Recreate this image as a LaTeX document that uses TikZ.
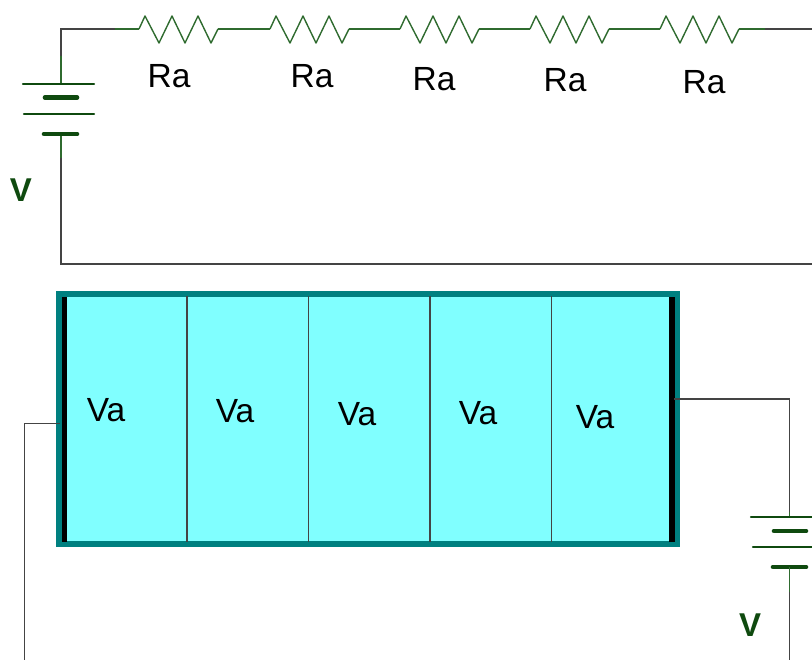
\documentclass[tikz,border=0pt]{standalone}
\usepackage{fontspec}
\setmainfont{Liberation Sans}
\definecolor{wirec}{HTML}{444444}
\definecolor{compc}{HTML}{2F6B2F}
\definecolor{batc}{HTML}{0F4A0F}
\definecolor{fillc}{HTML}{80FFFF}
\definecolor{framec}{HTML}{008080}
\tikzset{
  wire/.style={draw=wirec,line width=1.4pt,line join=miter},
  lead/.style={draw=compc,line width=1.4pt,line join=round},
  thinplate/.style={draw=batc,line width=2.4pt,line cap=round},
  thickplate/.style={draw=batc,line width=4.6pt,line cap=round},
  lab/.style={inner sep=0pt,font=\fontsize{33.5}{33.5}\selectfont,text=black,anchor=base},
  vlab/.style={inner sep=0pt,font=\fontsize{33}{33}\selectfont\bfseries,text=batc,anchor=base}
}
\newcommand{\resistor}[1]{%
  \draw[lead] (#1,29) -- (#1+6,16) -- (#1+20,43) -- (#1+33,16) -- (#1+46,43) -- (#1+59,16) -- (#1+72,43) -- (#1+79,29);}
\begin{document}
\begin{tikzpicture}[x=1pt,y=-1pt]
\useasboundingbox (0,0) rectangle (812,660);
\coordinate (tl) at (61,29);
\coordinate (tb) at (61,56);
\coordinate (bb) at (61,158);
\coordinate (bl) at (61,264);
\coordinate (br) at (812,264);
\coordinate (tr) at (812,29);
\draw[wire] (tb) -- (tl) -- (115,29);
\draw[wire] (bb) -- (bl) -- (br);
\draw[lead] (tb) -- (61,84);
\draw[lead] (61,134) -- (bb);
\draw[thinplate] (23,84) -- (94,84);
\draw[thickplate] (45,97.5) -- (77,97.5);
\draw[thinplate] (24,114) -- (94,114);
\draw[thickplate] (44,134) -- (77,134);
\node[vlab] (v1) at (21,202) {V};
\foreach \x in {139,270,400,530,660} {\resistor{\x}}
\draw[lead] (115,29) -- (139,29);
\draw[lead] (218,29) -- (270,29);
\draw[lead] (349,29) -- (400,29);
\draw[lead] (479,29) -- (530,29);
\draw[lead] (609,29) -- (660,29);
\draw[lead] (739,29) -- (765,29);
\draw[wire] (765,29) -- (tr);
\node[lab] (r1) at (169,88) {Ra};
\node[lab] (r2) at (312,88) {Ra};
\node[lab] (r3) at (434,91) {Ra};
\node[lab] (r4) at (565,92) {Ra};
\node[lab] (r5) at (704,94) {Ra};
\node[draw=framec,fill=fillc,line width=5.5pt,minimum width=618.5pt,minimum height=250pt,inner sep=0pt] (cell) at (368.25,419) {};
\foreach \x in {187,308.5,430,551.5} {\draw[wire] (\x,296) -- (\x,542);}
\fill[black] (61.7,296.7) rectangle (67.3,541.7);
\fill[black] (669.3,296.7) rectangle (675,541.7);
\node[lab] (a1) at (106,422) {Va};
\node[lab] (a2) at (235,423) {Va};
\node[lab] (a3) at (357,426) {Va};
\node[lab] (a4) at (478,425) {Va};
\node[lab] (a5) at (595,429) {Va};
\coordinate (ll) at (24.5,423.5);
\draw[wire] (60,423.5) -- (ll) -- (24.5,660);
\coordinate (rr) at (789.5,399);
\draw[wire] (674,399) -- (rr) -- (789.5,512);
\draw[lead] (789.5,512) -- (789.5,517);
\draw[thinplate] (751,517) -- (812,517);
\draw[thickplate] (774,531) -- (806,531);
\draw[thinplate] (753,547) -- (812,547);
\draw[thickplate] (773,567) -- (806,567);
\draw[lead] (789.5,567) -- (789.5,592);
\draw[wire] (789.5,592) -- (789.5,660);
\node[vlab] (v2) at (750,636) {V};
\end{tikzpicture}
\end{document}
